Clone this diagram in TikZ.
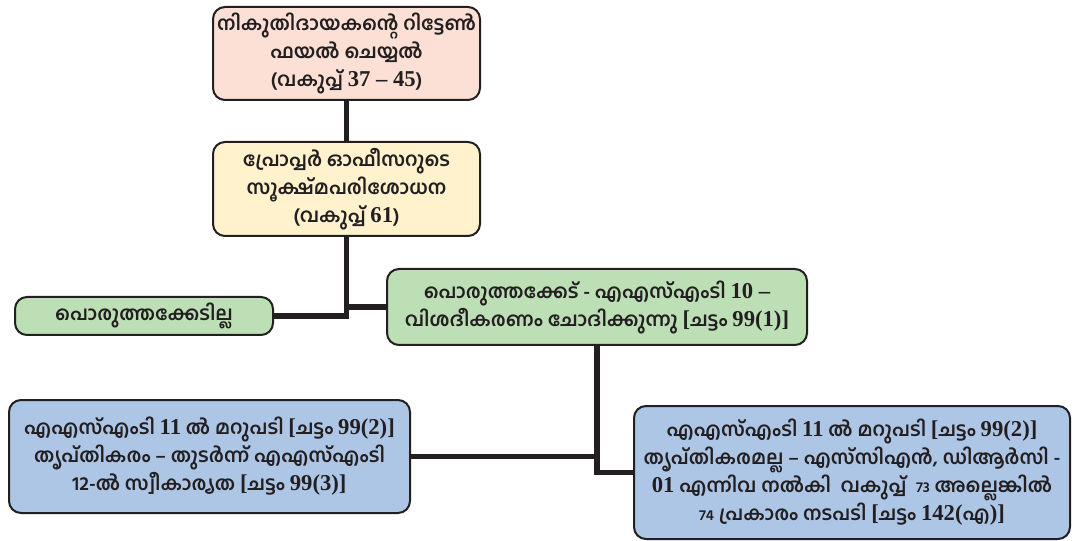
\documentclass[tikz,border=0pt]{standalone}
\usepackage{fontspec}
\setmainfont{Hind Kochi}[Script=Malayalam]
\newfontfamily\SerFont{Liberation Serif}
\newcommand\SerN[1]{{\SerFont\bfseries\fontsize{17}{21}\selectfont #1}}
\usetikzlibrary{positioning}
\definecolor{ink}{HTML}{231F20}
\definecolor{pinkf}{HTML}{FDE0D5}
\definecolor{yelf}{HTML}{FFF2CD}
\definecolor{grnf}{HTML}{BCDFB6}
\definecolor{bluf}{HTML}{ADC6E6}
\tikzset{
  box/.style={draw=ink, line width=1.5pt, rounded corners=9pt, align=center,
    text=ink, font=\fontsize{14.5}{21}\selectfont\bfseries, inner sep=0pt},
  conn/.style={draw=ink, line width=3.8pt}
}
\begin{document}
\begin{tikzpicture}[x=0.75pt,y=-0.75pt]
\useasboundingbox (0,0) rectangle (1074,541);
\node[box, fill=pinkf, minimum width=267*0.75pt, minimum height=93*0.75pt] (b1) at (346.5,53.5)
  {നികുതിദായകന്റെ റിട്ടേൺ\\ ഫയൽ ചെയ്യൽ\\ (വകുപ്പ് \SerN{37 – 45})};
\node[box, fill=yelf, minimum width=267*0.75pt, minimum height=94*0.75pt] (b2) at (346.5,189)
  {പ്രോപ്പർ ഓഫീസറുടെ\\ സൂക്ഷ്മപരിശോധന\\ (വകുപ്പ് \SerN{61})};
\node[box, fill=grnf, minimum width=258*0.75pt, minimum height=38*0.75pt] (b3) at (144,316)
  {പൊരുത്തക്കേടില്ല};
\node[box, fill=grnf, minimum width=420*0.75pt, minimum height=76*0.75pt] (b4) at (597,307)
  {പൊരുത്തക്കേട് - എഎസ്എംടി \SerN{10 –}\\ വിശദീകരണം ചോദിക്കുന്നു \SerN{[}ചട്ടം \SerN{99(1)]}};
\node[box, fill=bluf, minimum width=401*0.75pt, minimum height=113*0.75pt] (b5) at (209.5,456.5)
  {എഎസ്എംടി \SerN{11} ൽ മറുപടി \SerN{[}ചട്ടം \SerN{99(2)]}\\ തൃപ്തികരം – തുടർന്ന് എഎസ്എംടി\\ 12-ൽ സ്വീകാര്യത \SerN{[}ചട്ടം \SerN{99(3)]}};
\node[box, fill=bluf, minimum width=436*0.75pt, minimum height=133*0.75pt] (b6) at (852,472.5)
  {എഎസ്എംടി \SerN{11} ൽ മറുപടി \SerN{[}ചട്ടം \SerN{99(2)]}\\ തൃപ്തികരമല്ല – എസ്‌സിഎൻ, ഡിആർസി -\\ \SerN{01} എന്നിവ നൽകി\ \ വകുപ്പ്\ \ {\fontsize{11}{21}\selectfont 73} അല്ലെങ്കിൽ\\ {\fontsize{11}{21}\selectfont 74} പ്രകാരം നടപടി \SerN{[}ചട്ടം \SerN{142(}എ\SerN{)]}};
\draw[conn] (b1.south) -- (b2.north);
\draw[conn] (b2.south) |- (b3.east);
\draw[conn] (b2.south |- b4.west) -- (b4.west);
\draw[conn] (b4.south) |- (b6.west);
\draw[conn] (b5.east) -- (b5.east -| b4.south);
\end{tikzpicture}
\end{document}
